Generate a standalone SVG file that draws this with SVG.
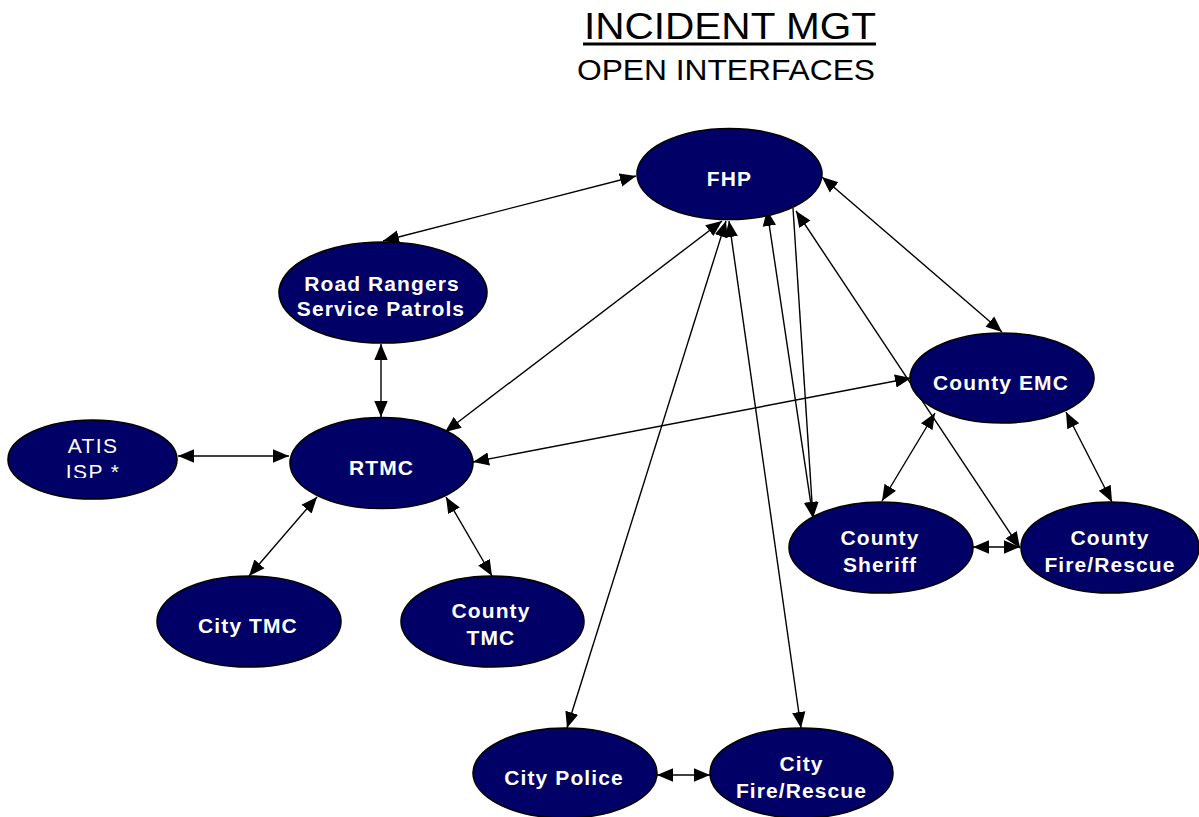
<svg xmlns="http://www.w3.org/2000/svg" width="1199" height="817" viewBox="0 0 1199 817">
  <style>
    .node { fill: #000066; stroke: #000000; stroke-width: 1.6; }
    .lbl { fill: #ffffff; font-family: "Liberation Sans", Arial, sans-serif; font-size: 21px; font-weight: bold; letter-spacing: 1.1px; text-anchor: middle; }
    .lbl-reg { fill: #ffffff; font-family: "Liberation Sans", Arial, sans-serif; font-size: 21px; letter-spacing: 1.4px; text-anchor: middle; }
    .title { fill: #000000; font-family: "Liberation Sans", Arial, sans-serif; }
    .conn line { stroke: #000000; stroke-width: 1.4; fill: none; }
    .both { marker-start: url(#arrow); marker-end: url(#arrow); }
    .one { marker-end: url(#arrow); }
  </style>
  <defs>
    <marker id="arrow" markerUnits="userSpaceOnUse" markerWidth="17" markerHeight="15" refX="16" refY="7.5" orient="auto-start-reverse">
      <path d="M0,0.8 L16,7.5 L0,14.2 z" fill="#000000"/>
    </marker>
    <clipPath id="atisClip">
      <rect x="0" y="400" width="200" height="78"/>
    </clipPath>
  </defs>
  <rect width="1199" height="817" fill="#ffffff"/>

  <!-- heading -->
  <g id="heading">
    <text class="title" x="584" y="39" font-size="37" textLength="292" lengthAdjust="spacingAndGlyphs">INCIDENT MGT</text>
    <rect x="583" y="42.5" width="293" height="3" fill="#000000"/>
    <text class="title" x="577" y="80" font-size="29" textLength="298" lengthAdjust="spacingAndGlyphs">OPEN INTERFACES</text>
  </g>

  <!-- connectors -->
  <g id="connectors" class="conn">
    <line class="both" x1="636" y1="176" x2="383" y2="241"/>
    <line class="both" x1="381" y1="344" x2="381" y2="417"/>
    <line class="both" x1="178" y1="456" x2="289" y2="456"/>
    <line class="both" x1="317" y1="497" x2="249" y2="576"/>
    <line class="both" x1="446" y1="497" x2="492" y2="576"/>
    <line class="both" x1="722" y1="221" x2="445" y2="432"/>
    <line class="both" x1="726" y1="221" x2="567" y2="728"/>
    <line class="both" x1="729" y1="221" x2="801" y2="728"/>
    <line class="both" x1="767" y1="210" x2="813" y2="518"/>
    <line class="one" x1="793" y1="208" x2="813" y2="518"/>
    <line class="both" x1="796" y1="211" x2="1020" y2="548"/>
    <line class="both" x1="822" y1="177" x2="1002" y2="332"/>
    <line class="both" x1="473" y1="462" x2="911" y2="378"/>
    <line class="both" x1="935" y1="413" x2="882" y2="501"/>
    <line class="both" x1="1066" y1="412" x2="1112" y2="502"/>
    <line class="both" x1="973" y1="547" x2="1020" y2="547"/>
    <line class="both" x1="657" y1="775" x2="710" y2="775"/>
  </g>

  <!-- nodes -->
  <g id="fhp">
    <ellipse class="node" cx="729.5" cy="174" rx="92.5" ry="45.5"/>
    <text class="lbl" x="729.5" y="186">FHP</text>
  </g>
  <g id="road-rangers">
    <ellipse class="node" cx="383" cy="292.5" rx="104" ry="50.5"/>
    <text class="lbl" x="382" y="291">Road Rangers</text>
    <text class="lbl" x="381" y="316">Service Patrols</text>
  </g>
  <g id="atis-isp">
    <ellipse class="node" cx="92.5" cy="459.5" rx="84.5" ry="39.5"/>
    <g clip-path="url(#atisClip)">
      <text class="lbl-reg" x="93" y="453">ATIS</text>
      <text class="lbl-reg" x="93" y="479">ISP *</text>
    </g>
  </g>
  <g id="rtmc">
    <ellipse class="node" cx="381.5" cy="463" rx="91.5" ry="45.5"/>
    <text class="lbl" x="381.5" y="475">RTMC</text>
  </g>
  <g id="city-tmc">
    <ellipse class="node" cx="249" cy="621.5" rx="92" ry="45.5"/>
    <text class="lbl" x="248" y="633">City TMC</text>
  </g>
  <g id="county-tmc">
    <ellipse class="node" cx="492.5" cy="621.5" rx="91.5" ry="45.5"/>
    <text class="lbl" x="491" y="618">County</text>
    <text class="lbl" x="491" y="645">TMC</text>
  </g>
  <g id="county-emc">
    <ellipse class="node" cx="1002" cy="378" rx="92" ry="45"/>
    <text class="lbl" x="1001" y="390">County EMC</text>
  </g>
  <g id="county-sheriff">
    <ellipse class="node" cx="881" cy="547.5" rx="92" ry="45.5"/>
    <text class="lbl" x="880" y="545">County</text>
    <text class="lbl" x="880" y="572">Sheriff</text>
  </g>
  <g id="county-fire-rescue">
    <ellipse class="node" cx="1110" cy="547.5" rx="89" ry="45.5"/>
    <text class="lbl" x="1110" y="545">County</text>
    <text class="lbl" x="1110" y="572">Fire/Rescue</text>
  </g>
  <g id="city-police">
    <ellipse class="node" cx="565" cy="773" rx="92" ry="45"/>
    <text class="lbl" x="564" y="785">City Police</text>
  </g>
  <g id="city-fire-rescue">
    <ellipse class="node" cx="801.5" cy="773" rx="91.5" ry="45"/>
    <text class="lbl" x="801.5" y="771">City</text>
    <text class="lbl" x="801.5" y="798">Fire/Rescue</text>
  </g>
</svg>
